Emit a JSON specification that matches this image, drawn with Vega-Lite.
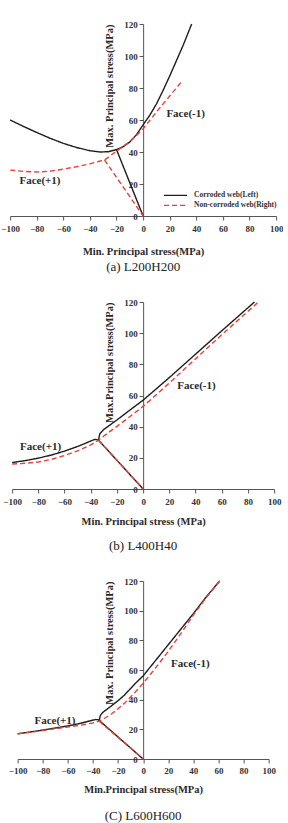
{
  "$schema": "https://vega.github.io/schema/vega-lite/v6.json",
  "background": "white",
  "padding": {"left": 0, "top": 20, "right": 0, "bottom": 0},
  "center": true,
  "spacing": 24,
  "config": {
    "view": {"stroke": null},
    "font": "Liberation Serif",
    "axis": {
      "grid": false,
      "labelFont": "Liberation Serif",
      "labelFontWeight": "bold",
      "labelFontSize": 9,
      "labelColor": "#333333",
      "labelFlush": false,
      "labelOverlap": false,
      "titleFont": "Liberation Serif",
      "titleFontWeight": "bold",
      "titleFontSize": 10.5,
      "titleColor": "#2a2a2a",
      "domainColor": "#555555",
      "tickColor": "#555555",
      "tickSize": 4,
      "domainWidth": 1,
      "tickWidth": 1
    },
    "axisY": {"labelPadding": 2, "titlePadding": 9, "titleAnchor": "end"},
    "legend": {
      "orient": "none",
      "title": null,
      "padding": 0,
      "symbolType": "stroke",
      "symbolSize": 529,
      "symbolStrokeWidth": 1.4,
      "labelFont": "Liberation Serif",
      "labelFontWeight": "bold",
      "labelFontSize": 7.5,
      "labelColor": "#333333",
      "labelOffset": 6,
      "clipHeight": 8,
      "rowPadding": 2
    },
    "title": {
      "orient": "bottom",
      "font": "Liberation Serif",
      "fontSize": 13,
      "fontWeight": "normal",
      "color": "#222222",
      "anchor": "middle"
    },
    "text": {"font": "Liberation Serif", "fontWeight": "bold", "fontSize": 11, "color": "#2a2a2a", "align": "left", "baseline": "middle"}
  },
  "datasets": {
    "a": [
      {"series": "Corroded web(Left)", "seg": "main", "x": -100, "y": 60},
      {"series": "Corroded web(Left)", "seg": "main", "x": -90, "y": 56},
      {"series": "Corroded web(Left)", "seg": "main", "x": -80, "y": 52.2},
      {"series": "Corroded web(Left)", "seg": "main", "x": -70, "y": 48.6},
      {"series": "Corroded web(Left)", "seg": "main", "x": -60, "y": 45.4},
      {"series": "Corroded web(Left)", "seg": "main", "x": -50, "y": 42.8},
      {"series": "Corroded web(Left)", "seg": "main", "x": -40, "y": 40.8},
      {"series": "Corroded web(Left)", "seg": "main", "x": -32, "y": 40},
      {"series": "Corroded web(Left)", "seg": "main", "x": -26, "y": 40.2},
      {"series": "Corroded web(Left)", "seg": "main", "x": -20, "y": 41.5},
      {"series": "Corroded web(Left)", "seg": "main", "x": -15, "y": 43.3},
      {"series": "Corroded web(Left)", "seg": "main", "x": -10, "y": 46.3},
      {"series": "Corroded web(Left)", "seg": "main", "x": -5, "y": 50.8},
      {"series": "Corroded web(Left)", "seg": "main", "x": 0, "y": 57},
      {"series": "Corroded web(Left)", "seg": "main", "x": 5, "y": 63},
      {"series": "Corroded web(Left)", "seg": "main", "x": 10, "y": 70},
      {"series": "Corroded web(Left)", "seg": "main", "x": 15, "y": 78.5},
      {"series": "Corroded web(Left)", "seg": "main", "x": 20, "y": 87.5},
      {"series": "Corroded web(Left)", "seg": "main", "x": 25, "y": 97},
      {"series": "Corroded web(Left)", "seg": "main", "x": 30, "y": 106.5},
      {"series": "Corroded web(Left)", "seg": "main", "x": 36.5, "y": 120},
      {"series": "Corroded web(Left)", "seg": "branch", "x": -20, "y": 41.5},
      {"series": "Corroded web(Left)", "seg": "branch", "x": 0, "y": 0},
      {"series": "Non-corroded web(Right)", "seg": "main", "x": -100, "y": 28.7},
      {"series": "Non-corroded web(Right)", "seg": "main", "x": -90, "y": 27.9},
      {"series": "Non-corroded web(Right)", "seg": "main", "x": -80, "y": 27.5},
      {"series": "Non-corroded web(Right)", "seg": "main", "x": -70, "y": 28},
      {"series": "Non-corroded web(Right)", "seg": "main", "x": -60, "y": 29.3},
      {"series": "Non-corroded web(Right)", "seg": "main", "x": -50, "y": 30.8},
      {"series": "Non-corroded web(Right)", "seg": "main", "x": -40, "y": 32.6},
      {"series": "Non-corroded web(Right)", "seg": "main", "x": -33, "y": 34.2},
      {"series": "Non-corroded web(Right)", "seg": "main", "x": -29, "y": 35},
      {"series": "Non-corroded web(Right)", "seg": "main", "x": -25, "y": 37.5},
      {"series": "Non-corroded web(Right)", "seg": "main", "x": -20, "y": 40.5},
      {"series": "Non-corroded web(Right)", "seg": "main", "x": -15, "y": 43.5},
      {"series": "Non-corroded web(Right)", "seg": "main", "x": -10, "y": 46.5},
      {"series": "Non-corroded web(Right)", "seg": "main", "x": -5, "y": 50.3},
      {"series": "Non-corroded web(Right)", "seg": "main", "x": 0, "y": 54.5},
      {"series": "Non-corroded web(Right)", "seg": "main", "x": 10, "y": 65},
      {"series": "Non-corroded web(Right)", "seg": "main", "x": 20, "y": 75},
      {"series": "Non-corroded web(Right)", "seg": "main", "x": 29.5, "y": 84.5},
      {"series": "Non-corroded web(Right)", "seg": "branch", "x": -29, "y": 35},
      {"series": "Non-corroded web(Right)", "seg": "branch", "x": 0, "y": 0}
    ],
    "b": [
      {"series": "Corroded web(Left)", "seg": "main", "x": -100, "y": 17},
      {"series": "Corroded web(Left)", "seg": "main", "x": -90, "y": 18.2},
      {"series": "Corroded web(Left)", "seg": "main", "x": -80, "y": 19.8},
      {"series": "Corroded web(Left)", "seg": "main", "x": -70, "y": 21.8},
      {"series": "Corroded web(Left)", "seg": "main", "x": -60, "y": 24.3},
      {"series": "Corroded web(Left)", "seg": "main", "x": -50, "y": 27.3},
      {"series": "Corroded web(Left)", "seg": "main", "x": -45, "y": 29},
      {"series": "Corroded web(Left)", "seg": "main", "x": -40, "y": 30.8},
      {"series": "Corroded web(Left)", "seg": "main", "x": -37, "y": 31.8},
      {"series": "Corroded web(Left)", "seg": "main", "x": -35, "y": 31.6},
      {"series": "Corroded web(Left)", "seg": "main", "x": -34, "y": 31.3},
      {"series": "Corroded web(Left)", "seg": "main", "x": -33.6, "y": 33.5},
      {"series": "Corroded web(Left)", "seg": "main", "x": -33, "y": 35.5},
      {"series": "Corroded web(Left)", "seg": "main", "x": -31, "y": 37.3},
      {"series": "Corroded web(Left)", "seg": "main", "x": -30, "y": 38.2},
      {"series": "Corroded web(Left)", "seg": "main", "x": -20, "y": 44.3},
      {"series": "Corroded web(Left)", "seg": "main", "x": -10, "y": 50.7},
      {"series": "Corroded web(Left)", "seg": "main", "x": 0, "y": 57},
      {"series": "Corroded web(Left)", "seg": "main", "x": 20, "y": 71.5},
      {"series": "Corroded web(Left)", "seg": "main", "x": 40, "y": 86.5},
      {"series": "Corroded web(Left)", "seg": "main", "x": 60, "y": 101.5},
      {"series": "Corroded web(Left)", "seg": "main", "x": 85, "y": 120},
      {"series": "Corroded web(Left)", "seg": "branch", "x": -34, "y": 31.3},
      {"series": "Corroded web(Left)", "seg": "branch", "x": 0, "y": 0},
      {"series": "Non-corroded web(Right)", "seg": "main", "x": -100, "y": 16},
      {"series": "Non-corroded web(Right)", "seg": "main", "x": -90, "y": 16.5},
      {"series": "Non-corroded web(Right)", "seg": "main", "x": -80, "y": 17.3},
      {"series": "Non-corroded web(Right)", "seg": "main", "x": -70, "y": 19},
      {"series": "Non-corroded web(Right)", "seg": "main", "x": -60, "y": 21.5},
      {"series": "Non-corroded web(Right)", "seg": "main", "x": -50, "y": 24.5},
      {"series": "Non-corroded web(Right)", "seg": "main", "x": -40, "y": 28.3},
      {"series": "Non-corroded web(Right)", "seg": "main", "x": -34, "y": 31.3},
      {"series": "Non-corroded web(Right)", "seg": "main", "x": -30, "y": 34},
      {"series": "Non-corroded web(Right)", "seg": "main", "x": -20, "y": 40.2},
      {"series": "Non-corroded web(Right)", "seg": "main", "x": -10, "y": 46.5},
      {"series": "Non-corroded web(Right)", "seg": "main", "x": 0, "y": 53},
      {"series": "Non-corroded web(Right)", "seg": "main", "x": 20, "y": 68},
      {"series": "Non-corroded web(Right)", "seg": "main", "x": 40, "y": 83.5},
      {"series": "Non-corroded web(Right)", "seg": "main", "x": 60, "y": 99},
      {"series": "Non-corroded web(Right)", "seg": "main", "x": 88, "y": 120},
      {"series": "Non-corroded web(Right)", "seg": "branch", "x": -34, "y": 31.3},
      {"series": "Non-corroded web(Right)", "seg": "branch", "x": 0, "y": 0}
    ],
    "c": [
      {"series": "Corroded web(Left)", "seg": "main", "x": -100, "y": 17},
      {"series": "Corroded web(Left)", "seg": "main", "x": -90, "y": 18.2},
      {"series": "Corroded web(Left)", "seg": "main", "x": -80, "y": 19.5},
      {"series": "Corroded web(Left)", "seg": "main", "x": -70, "y": 20.9},
      {"series": "Corroded web(Left)", "seg": "main", "x": -60, "y": 22.3},
      {"series": "Corroded web(Left)", "seg": "main", "x": -50, "y": 24},
      {"series": "Corroded web(Left)", "seg": "main", "x": -42, "y": 25.8},
      {"series": "Corroded web(Left)", "seg": "main", "x": -38, "y": 26.6},
      {"series": "Corroded web(Left)", "seg": "main", "x": -36, "y": 26.5},
      {"series": "Corroded web(Left)", "seg": "main", "x": -35, "y": 26},
      {"series": "Corroded web(Left)", "seg": "main", "x": -34.6, "y": 27.5},
      {"series": "Corroded web(Left)", "seg": "main", "x": -34, "y": 29.5},
      {"series": "Corroded web(Left)", "seg": "main", "x": -32, "y": 31.5},
      {"series": "Corroded web(Left)", "seg": "main", "x": -25, "y": 36},
      {"series": "Corroded web(Left)", "seg": "main", "x": -20, "y": 39.3},
      {"series": "Corroded web(Left)", "seg": "main", "x": -15, "y": 43},
      {"series": "Corroded web(Left)", "seg": "main", "x": -10, "y": 47.5},
      {"series": "Corroded web(Left)", "seg": "main", "x": -5, "y": 52},
      {"series": "Corroded web(Left)", "seg": "main", "x": 0, "y": 56},
      {"series": "Corroded web(Left)", "seg": "main", "x": 10, "y": 66.5},
      {"series": "Corroded web(Left)", "seg": "main", "x": 20, "y": 77},
      {"series": "Corroded web(Left)", "seg": "main", "x": 30, "y": 87.5},
      {"series": "Corroded web(Left)", "seg": "main", "x": 40, "y": 98},
      {"series": "Corroded web(Left)", "seg": "main", "x": 50, "y": 109},
      {"series": "Corroded web(Left)", "seg": "main", "x": 61, "y": 120},
      {"series": "Corroded web(Left)", "seg": "branch", "x": -35, "y": 26},
      {"series": "Corroded web(Left)", "seg": "branch", "x": 0, "y": 0},
      {"series": "Non-corroded web(Right)", "seg": "main", "x": -100, "y": 17},
      {"series": "Non-corroded web(Right)", "seg": "main", "x": -90, "y": 18},
      {"series": "Non-corroded web(Right)", "seg": "main", "x": -80, "y": 19.2},
      {"series": "Non-corroded web(Right)", "seg": "main", "x": -70, "y": 20.4},
      {"series": "Non-corroded web(Right)", "seg": "main", "x": -60, "y": 21.6},
      {"series": "Non-corroded web(Right)", "seg": "main", "x": -50, "y": 22.8},
      {"series": "Non-corroded web(Right)", "seg": "main", "x": -40, "y": 24.3},
      {"series": "Non-corroded web(Right)", "seg": "main", "x": -35, "y": 25.5},
      {"series": "Non-corroded web(Right)", "seg": "main", "x": -30, "y": 27.8},
      {"series": "Non-corroded web(Right)", "seg": "main", "x": -25, "y": 30.5},
      {"series": "Non-corroded web(Right)", "seg": "main", "x": -20, "y": 33.8},
      {"series": "Non-corroded web(Right)", "seg": "main", "x": -15, "y": 37.5},
      {"series": "Non-corroded web(Right)", "seg": "main", "x": -10, "y": 41.8},
      {"series": "Non-corroded web(Right)", "seg": "main", "x": -5, "y": 46.3},
      {"series": "Non-corroded web(Right)", "seg": "main", "x": 0, "y": 51},
      {"series": "Non-corroded web(Right)", "seg": "main", "x": 10, "y": 61.5},
      {"series": "Non-corroded web(Right)", "seg": "main", "x": 20, "y": 72.5},
      {"series": "Non-corroded web(Right)", "seg": "main", "x": 30, "y": 84.5},
      {"series": "Non-corroded web(Right)", "seg": "main", "x": 40, "y": 97},
      {"series": "Non-corroded web(Right)", "seg": "main", "x": 50, "y": 108.5},
      {"series": "Non-corroded web(Right)", "seg": "main", "x": 61, "y": 120},
      {"series": "Non-corroded web(Right)", "seg": "branch", "x": -35, "y": 25.5},
      {"series": "Non-corroded web(Right)", "seg": "branch", "x": 0, "y": 0}
    ],
    "faceA": [
      {"label": "Face(-1)", "x": 17.5, "y": 63.6},
      {"label": "Face(+1)", "x": -93, "y": 21.7}
    ],
    "faceB": [
      {"label": "Face(-1)", "x": 26, "y": 66},
      {"label": "Face(+1)", "x": -94, "y": 27}
    ],
    "faceC": [
      {"label": "Face(-1)", "x": 22.3, "y": 64},
      {"label": "Face(+1)", "x": -86.6, "y": 25.6}
    ]
  },
  "vconcat": [
    {
      "width": 266,
      "height": 192,
      "title": {"text": "(a)  L200H200", "offset": 4},
      "layer": [
        {
          "data": {"name": "a"},
          "mark": {"type": "line", "strokeWidth": 1.4},
          "encoding": {
            "x": {"field": "x", "type": "quantitative", "scale": {"domain": [-100, 100], "nice": false},
                  "axis": {"values": [-100, -80, -60, -40, -20, 0, 20, 40, 60, 80, 100], "tickCount": 11, "labelOverlap": false, "title": "Min. Principal stress(MPa)", "labelPadding": 4, "titlePadding": 13}},
            "y": {"field": "y", "type": "quantitative", "scale": {"domain": [0, 120], "nice": false},
                  "axis": {"values": [0, 20, 40, 60, 80, 100, 120], "tickCount": 7, "labelOverlap": false, "offset": -133, "title": "Max. Principal stress(MPa)"}},
            "color": {"field": "series", "type": "nominal",
                      "scale": {"domain": ["Corroded web(Left)", "Non-corroded web(Right)"], "range": ["#1e1e1e", "#e8413a"]},
                      "legend": {"legendX": 153, "legendY": 167.4}},
            "strokeDash": {"field": "series", "type": "nominal",
                           "scale": {"domain": ["Corroded web(Left)", "Non-corroded web(Right)"], "range": [[1, 0], [5, 3]]},
                           "legend": {"legendX": 153, "legendY": 167.4}},
            "detail": {"field": "seg", "type": "nominal"}
          }
        },
        {
          "data": {"name": "faceA"},
          "mark": {"type": "text"},
          "encoding": {
            "x": {"field": "x", "type": "quantitative"},
            "y": {"field": "y", "type": "quantitative"},
            "text": {"field": "label"}
          }
        }
      ]
    },
    {
      "width": 262,
      "height": 187,
      "title": {"text": "(b)  L400H40", "offset": 13},
      "layer": [
        {
          "data": {"name": "b"},
          "mark": {"type": "line", "strokeWidth": 1.4},
          "encoding": {
            "x": {"field": "x", "type": "quantitative", "scale": {"domain": [-100, 100], "nice": false},
                  "axis": {"values": [-100, -80, -60, -40, -20, 0, 20, 40, 60, 80, 100], "tickCount": 11, "labelOverlap": false, "title": "Min. Principal stress (MPa)", "labelPadding": 4, "titlePadding": 10}},
            "y": {"field": "y", "type": "quantitative", "scale": {"domain": [0, 120], "nice": false},
                  "axis": {"values": [0, 20, 40, 60, 80, 100, 120], "tickCount": 7, "labelOverlap": false, "offset": -131, "title": "Max.Principal stress(MPa)"}},
            "color": {"field": "series", "type": "nominal",
                      "scale": {"domain": ["Corroded web(Left)", "Non-corroded web(Right)"], "range": ["#1e1e1e", "#e8413a"]},
                      "legend": {"legendX": 152, "legendY": 164}},
            "strokeDash": {"field": "series", "type": "nominal",
                           "scale": {"domain": ["Corroded web(Left)", "Non-corroded web(Right)"], "range": [[1, 0], [5, 3]]},
                           "legend": {"legendX": 152, "legendY": 164}},
            "detail": {"field": "seg", "type": "nominal"}
          }
        },
        {
          "data": {"name": "faceB"},
          "mark": {"type": "text"},
          "encoding": {
            "x": {"field": "x", "type": "quantitative"},
            "y": {"field": "y", "type": "quantitative"},
            "text": {"field": "label"}
          }
        }
      ]
    },
    {
      "width": 251,
      "height": 178,
      "title": {"text": "(C)  L600H600", "offset": 15},
      "layer": [
        {
          "data": {"name": "c"},
          "mark": {"type": "line", "strokeWidth": 1.4},
          "encoding": {
            "x": {"field": "x", "type": "quantitative", "scale": {"domain": [-100, 100], "nice": false},
                  "axis": {"values": [-100, -80, -60, -40, -20, 0, 20, 40, 60, 80, 100], "tickCount": 11, "labelOverlap": false, "title": "Min.Principal stress(MPa)", "labelPadding": 3, "titlePadding": 9}},
            "y": {"field": "y", "type": "quantitative", "scale": {"domain": [0, 120], "nice": false},
                  "axis": {"values": [0, 20, 40, 60, 80, 100, 120], "tickCount": 7, "labelOverlap": false, "offset": -125.5, "title": "Max. Principal stress(MPa)"}},
            "color": {"field": "series", "type": "nominal",
                      "scale": {"domain": ["Corroded web(Left)", "Non-corroded web(Right)"], "range": ["#1e1e1e", "#e8413a"]},
                      "legend": {"legendX": 146.5, "legendY": 154.3}},
            "strokeDash": {"field": "series", "type": "nominal",
                           "scale": {"domain": ["Corroded web(Left)", "Non-corroded web(Right)"], "range": [[1, 0], [5, 3]]},
                           "legend": {"legendX": 146.5, "legendY": 154.3}},
            "detail": {"field": "seg", "type": "nominal"}
          }
        },
        {
          "data": {"name": "faceC"},
          "mark": {"type": "text"},
          "encoding": {
            "x": {"field": "x", "type": "quantitative"},
            "y": {"field": "y", "type": "quantitative"},
            "text": {"field": "label"}
          }
        }
      ]
    }
  ]
}
